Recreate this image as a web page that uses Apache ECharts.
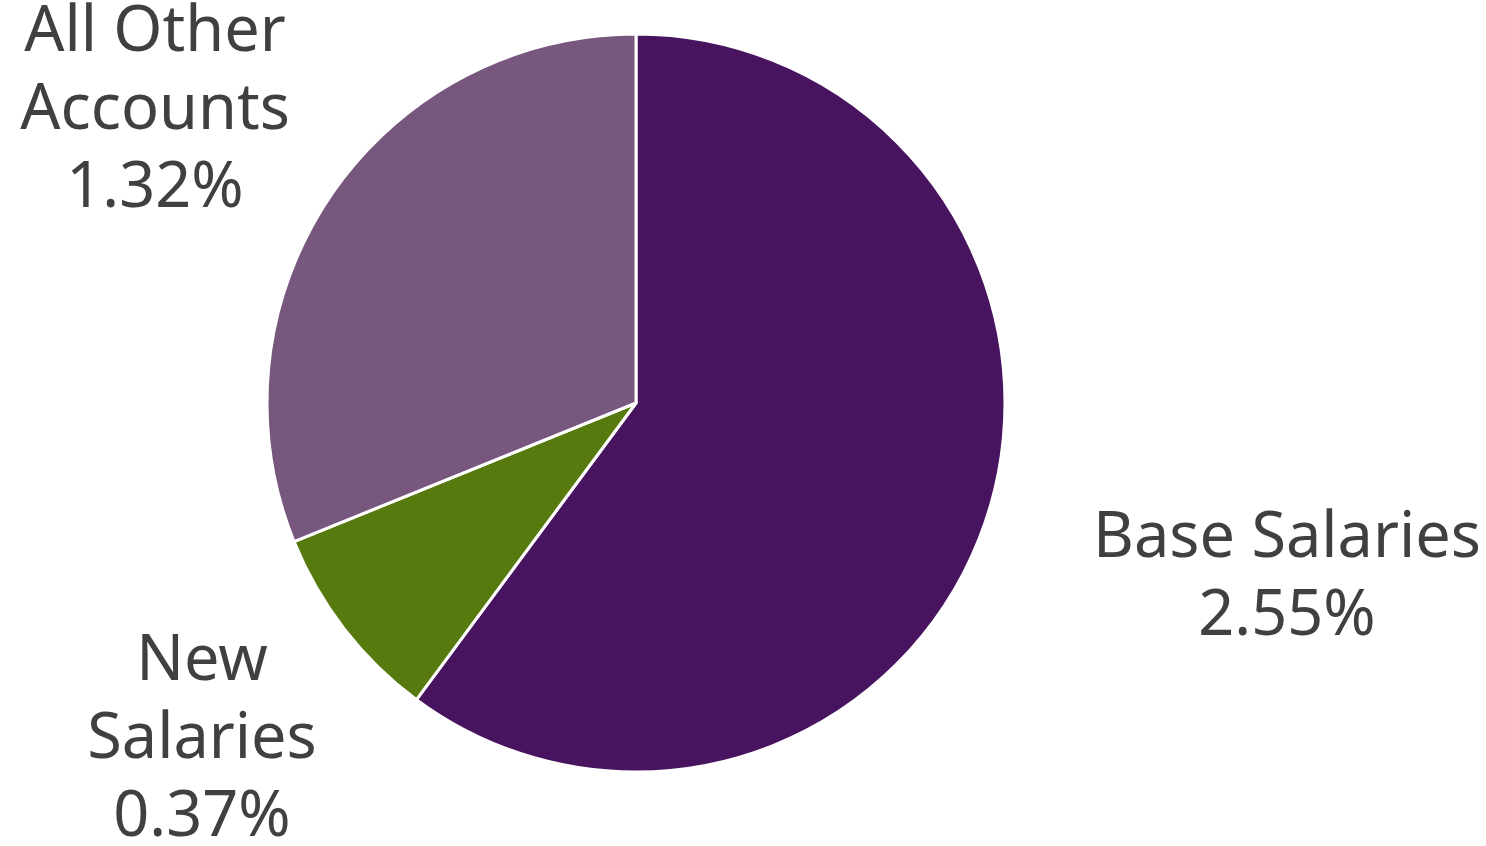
<!DOCTYPE html>
<html>
<head>
<meta charset="utf-8">
<script src="https://cdn.jsdelivr.net/npm/echarts@6/dist/echarts.min.js"></script>
<style>html,body{margin:0;padding:0;background:#fff;}#chart{width:1486px;height:846px;}</style>
</head>
<body>
<div id="chart"></div>
<script>
const categories = ['Base Salaries', 'New Salaries', 'All Other Accounts'];
const labelNames = ['Base Salaries', 'New\nSalaries', 'All Other\nAccounts'];
const values = [2.55, 0.37, 1.32];
const colors = ['#48145F', '#567A0D', '#78577F'];
const labelAnchors = [[1287, 578], [202, 740], [155, 111]];

const chart = echarts.init(document.getElementById('chart'), null, {renderer: 'canvas'});
chart.setOption({
  animation: false,
  series: [{
    type: 'pie',
    center: [636, 403],
    radius: [0, 369],
    startAngle: 90,
    clockwise: true,
    data: categories.map((c, i) => ({
      name: c, value: values[i],
      itemStyle: {color: colors[i]},
      label: {formatter: labelNames[i] + '\n' + values[i].toFixed(2) + '%'}
    })),
    itemStyle: {borderColor: '#ffffff', borderWidth: 3},
    label: {
      show: true,
      position: 'outside',
      color: '#404040',
      fontFamily: 'Noto Sans',
      fontSize: 63,
      lineHeight: 78,
      align: 'center'
    },
    labelLine: {show: false},
    labelLayout: function (p) {
      const a = labelAnchors[p.dataIndex];
      return {x: a[0], y: a[1], align: 'center', verticalAlign: 'middle'};
    }
  }]
});
</script>
</body>
</html>
